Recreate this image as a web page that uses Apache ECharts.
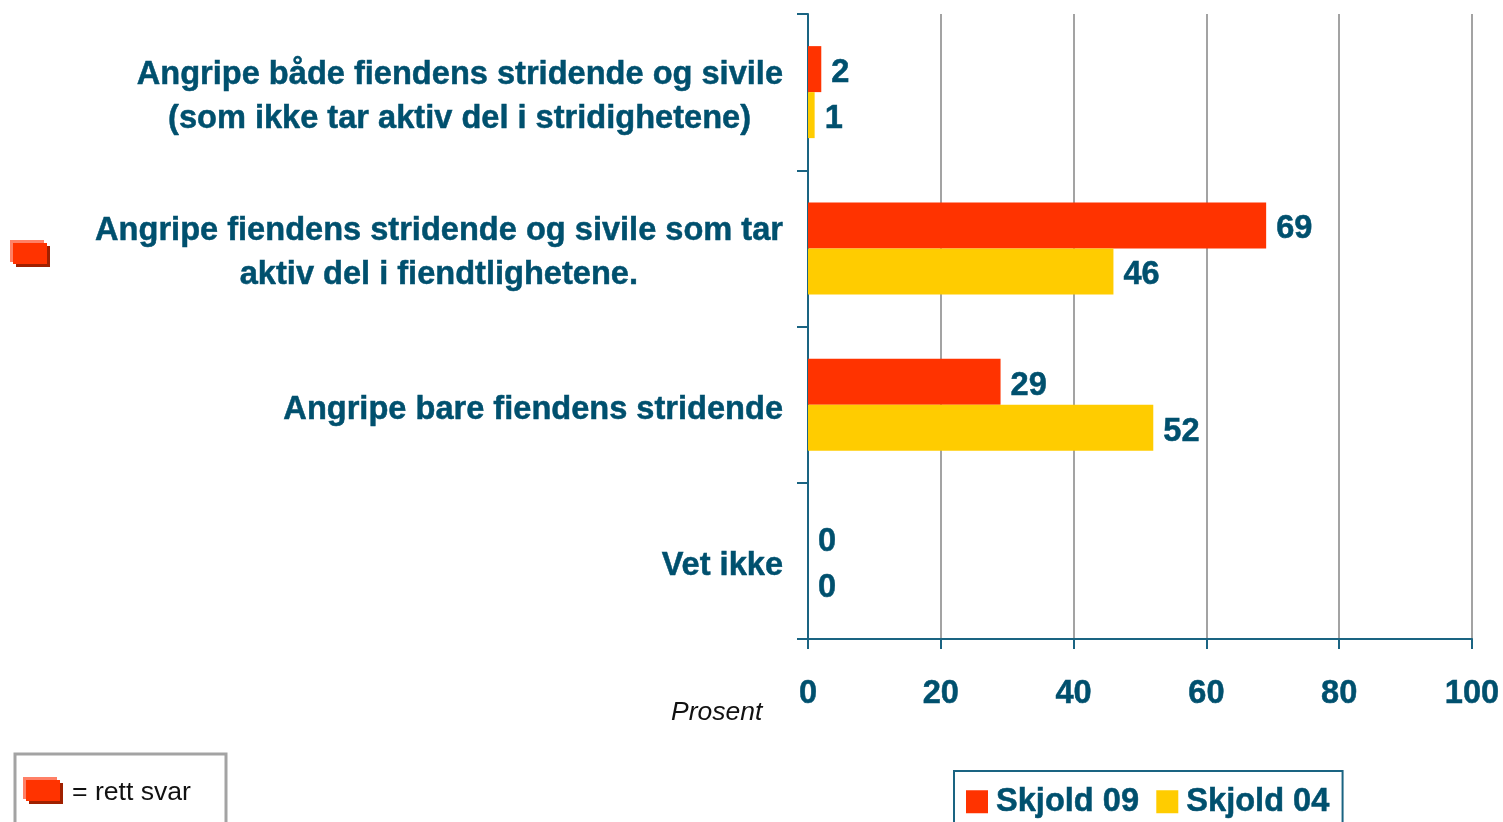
<!DOCTYPE html>
<html><head><meta charset="utf-8">
<style>html,body{margin:0;padding:0;background:#fff;overflow:hidden}#c{width:1503px;height:822px}</style>
<script src="https://cdn.jsdelivr.net/npm/echarts@6/dist/echarts.min.js"></script>
</head><body><div id="c"></div>
<script>
const categories = [
  "Angripe både fiendens stridende og sivile\n(som ikke tar aktiv del i stridighetene)",
  "Angripe fiendens stridende og sivile som tar\naktiv del i fiendtlighetene.",
  "Angripe bare fiendens stridende",
  "Vet ikke"
];
const skjold09 = [2, 69, 29, 0];
const skjold04 = [1, 46, 52, 0];
const xTicks = [0, 20, 40, 60, 80, 100];

const TEAL = "#00506e", AXIS = "#1a6482", GREY = "#a3a3a3", RED = "#ff3300", YELLOW = "#ffcc00";
const FONT = '"Liberation Sans", Arial, sans-serif';
const SIZE = 32.6;
const mctx = document.createElement("canvas").getContext("2d");
mctx.font = `bold ${SIZE}px "Liberation Sans"`;
const heavy = {textBorderColor: TEAL, textBorderWidth: 0.5};
const richBase = Object.assign({fontFamily: FONT, fontWeight: "bold", fontSize: SIZE, color: TEAL, lineHeight: 44}, heavy);

function catLabel(v) {
  const lines = v.split("\n");
  if (lines.length === 1) return `{a|${v}}`;
  const pad = Math.round((mctx.measureText(lines[0]).width - mctx.measureText(lines[1]).width) / 2);
  rich["p" + pad] = Object.assign({}, richBase, {padding: [0, pad, 0, 0]});
  return `{a|${lines[0]}}\n{p${pad}|${lines[1]}}`;
}
const rich = {a: richBase};
categories.forEach(catLabel);

function marker(x, y) {
  return [
    {type: "rect", shape: {x: x, y: y, width: 34, height: 22}, style: {fill: "#ff8066"}},
    {type: "rect", shape: {x: x + 6, y: y + 6, width: 34, height: 21}, style: {fill: "#a02000"}},
    {type: "rect", shape: {x: x + 3, y: y + 3, width: 34, height: 21}, style: {fill: RED}}
  ];
}

const labelStyle = Object.assign({show: true, position: "right", distance: 10, offset: [0, 4], fontFamily: FONT, fontWeight: "bold", fontSize: SIZE, color: TEAL}, heavy);
const chart = echarts.init(document.getElementById("c"), null, {renderer: "canvas"});
chart.setOption({
  animation: false,
  backgroundColor: "#fff",
  grid: {left: 808, right: 31, top: 14, bottom: 183},
  legend: {
    left: 954, top: 771, orient: "horizontal", selectedMode: false,
    data: ["Skjold 09", "Skjold 04"],
    icon: "rect", itemWidth: 22, itemHeight: 23, itemGap: 17,
    padding: [14, 13, 60, 12], borderColor: AXIS, borderWidth: 2,
    textStyle: Object.assign({fontFamily: FONT, fontWeight: "bold", fontSize: SIZE, color: TEAL, padding: [0, 0, 0, 3]}, heavy)
  },
  xAxis: {
    type: "value", min: 0, max: 100, interval: 20,
    axisLine: {show: true, lineStyle: {color: AXIS, width: 2}},
    axisTick: {show: true, length: 10, lineStyle: {color: AXIS, width: 2}},
    splitLine: {show: true, lineStyle: {color: GREY, width: 2}},
    axisLabel: Object.assign({margin: 39, fontFamily: FONT, fontWeight: "bold", fontSize: SIZE, color: TEAL,
      customValues: xTicks, hideOverlap: false}, heavy)
  },
  yAxis: {
    type: "category", inverse: true, data: categories,
    axisLine: {show: true, lineStyle: {color: AXIS, width: 2}},
    axisTick: {show: true, length: 11, alignWithLabel: false, lineStyle: {color: AXIS, width: 2}},
    splitLine: {show: false},
    axisLabel: {margin: 25, interval: 0, align: "right", padding: [10, 0, 0, 0], formatter: catLabel, rich: rich}
  },
  series: [
    {name: "Skjold 09", type: "bar", data: skjold09, barWidth: 46, barGap: "0%", itemStyle: {color: RED}, label: labelStyle},
    {name: "Skjold 04", type: "bar", data: skjold04, barWidth: 46, barGap: "0%", itemStyle: {color: YELLOW}, label: labelStyle}
  ],
  graphic: [
    {type: "text", left: 671, top: 699, style: {text: "Prosent", font: `italic 26.5px ${FONT}`, fill: "#111"}},
    {type: "rect", shape: {x: 15, y: 754, width: 211, height: 90}, style: {fill: "#fff", stroke: GREY, lineWidth: 3}},
    {type: "text", left: 72, top: 779, style: {text: "= rett svar", font: `26.6px ${FONT}`, fill: "#111"}}
  ].concat(marker(10, 240), marker(23, 777))
});
</script></body></html>
